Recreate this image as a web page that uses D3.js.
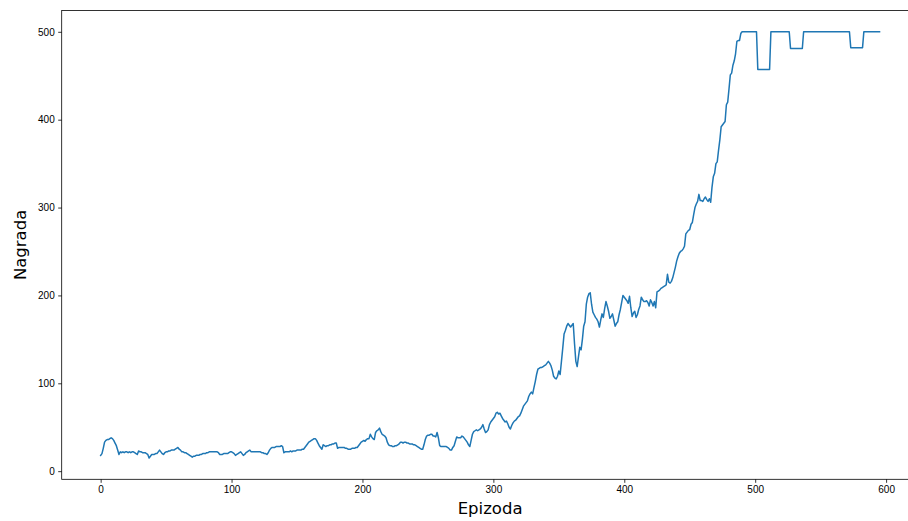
<!DOCTYPE html>
<html lang="hr">
<head>
    <meta charset="UTF-8">
    <title>Nagrada po epizodi</title>
    <script src="https://d3js.org/d3.v7.min.js"></script>
    <style>
        body { margin: 0; background: #fff; }
        svg { display: block; font-family: "DejaVu Sans", sans-serif; }
        .tick text { font-size: 10px; fill: #000; }
        .tick line { stroke: #000; stroke-width: 0.8; }
        .domain { display: none; }
    </style>
</head>
<body>
    <svg width="908" height="521"></svg>

    <script>
        // nagrada (pomični prosjek) po epizodi, očitano sa slike
        var rewards = [
            18, 20, 26, 33, 35, 36, 36, 37, 38, 37,
            35, 32, 29, 24, 19, 22, 21, 22, 21, 22,
            22, 21, 22, 21, 22, 22, 21, 20, 19, 23,
            22, 22, 21, 21, 21, 20, 19, 15, 17, 19,
            19, 19, 20, 20, 22, 24, 22, 20, 19, 21,
            22, 22, 23, 23, 24, 24, 24, 25, 26, 27,
            25, 24, 22, 22, 21, 21, 20, 19, 18, 17,
            16, 17, 17, 18, 18, 18, 19, 19, 20, 20,
            20, 21, 21, 22, 22, 22, 22, 22, 22, 22,
            21, 19, 19, 19, 20, 20, 20, 20, 21, 22,
            22, 21, 20, 18, 19, 20, 21, 22, 20, 18,
            19, 21, 22, 23, 24, 22, 22, 22, 22, 22,
            22, 22, 22, 21, 21, 20, 20, 19, 21, 24,
            26, 27, 27, 27, 28, 28, 28, 28, 29, 28,
            21, 22, 22, 22, 22, 23, 22, 23, 23, 23,
            24, 24, 24, 24, 25, 25, 27, 29, 31, 33,
            34, 35, 36, 37, 37, 35, 32, 29, 27, 25,
            30, 29, 28, 29, 29, 30, 30, 31, 31, 32,
            32, 26, 27, 27, 27, 27, 27, 26, 26, 25,
            25, 25, 26, 26, 26, 27, 27, 29, 31, 33,
            34, 35, 34, 36, 37, 37, 42, 39, 37, 36,
            44, 46, 47, 49, 45, 42, 41, 40, 38, 33,
            30, 29, 29, 28, 28, 29, 29, 30, 31, 33,
            33, 32, 33, 33, 32, 32, 31, 31, 31, 30,
            30, 29, 28, 27, 26, 25, 25, 30, 36, 40,
            41, 41, 42, 42, 40, 40, 39, 44, 38, 29,
            28, 28, 28, 28, 28, 27, 26, 24, 24, 27,
            29, 34, 39, 38, 38, 38, 40, 39, 37, 35,
            33, 30, 28, 35, 42, 45, 46, 47, 46, 47,
            48, 50, 53, 48, 44, 45, 47, 53, 56, 58,
            60, 62, 66, 67, 65, 66, 63, 60, 58, 56,
            57, 54, 50, 48, 52, 55, 57, 58, 60, 62,
            63, 66, 70, 74, 76, 78, 80, 85, 88, 90,
            88, 95, 102, 110, 116, 117, 118, 118, 119, 120,
            121, 123, 125, 123, 120, 115, 108, 106, 105, 108,
            114, 110, 125, 140, 156, 160, 165, 168, 166, 164,
            166, 168, 145, 125, 119, 130, 141, 138, 150, 165,
            170, 190, 198, 202, 203, 190, 181, 178, 175, 173,
            170, 164, 172, 179, 175, 185, 193, 188, 182, 174,
            176, 179, 172, 165, 168, 170, 178, 184, 192, 200,
            198, 196, 194, 191, 199, 186, 176, 180, 182, 175,
            178, 184, 188, 198, 195, 193, 193, 194, 192, 188,
            195, 192, 188, 193, 186, 204, 205, 206, 208, 209,
            210, 211, 212, 224, 215, 214, 216, 220, 226, 232,
            239, 244, 248, 250, 251, 253, 256, 270, 272, 274,
            275, 281, 283, 292, 300, 304, 307, 315, 308, 308,
            307, 310, 312, 309, 307, 310, 306, 323, 335, 339,
            350, 352, 365, 377, 392, 394, 396, 398, 417, 420,
            435, 451, 453, 462, 467, 475, 489, 490, 490, 498,
            500, 500, 500, 500, 500, 500, 500, 500, 500, 500,
            500, 500, 457, 457, 457, 457, 457, 457, 457, 457,
            457, 457, 500, 500, 500, 500, 500, 500, 500, 500,
            500, 500, 500, 500, 500, 500, 500, 481, 481, 481,
            481, 481, 481, 481, 481, 481, 481, 500, 500, 500,
            500, 500, 500, 500, 500, 500, 500, 500, 500, 500,
            500, 500, 500, 500, 500, 500, 500, 500, 500, 500,
            500, 500, 500, 500, 500, 500, 500, 500, 500, 500,
            500, 500, 500, 482, 482, 482, 482, 482, 482, 482,
            482, 482, 482, 500, 500, 500, 500, 500, 500, 500,
            500, 500, 500, 500, 500, 500
        ];

        var xTicks = [0, 100, 200, 300, 400, 500, 600];
        var yTicks = [0, 100, 200, 300, 400, 500];
        var xLabel = "Epizoda";
        var yLabel = "Nagrada";

        var svg = d3.select("svg");

        // područje grafa (desni rub izlazi izvan slike kao na originalu)
        var plotLeft = 61.7, plotTop = 10.5, plotRight = 918.5, plotBottom = 479.3;

        // matplotlib margine od 5%
        var n = rewards.length - 1;
        var x = d3.scaleLinear()
            .domain([-0.05 * n, 1.05 * n])
            .range([plotLeft, plotRight]);

        var yExt = d3.extent(rewards);
        var yPad = (yExt[1] - yExt[0]) * 0.05;
        var y = d3.scaleLinear()
            .domain([yExt[0] - yPad, yExt[1] + yPad])
            .range([plotBottom, plotTop]);

        // linija
        var line = d3.line()
            .x(function(d, i) { return x(i); })
            .y(function(d) { return y(d); });

        svg.append("path")
            .datum(rewards)
            .attr("d", line)
            .attr("fill", "none")
            .attr("stroke", "#1f77b4")
            .attr("stroke-width", 1.5)
            .attr("stroke-linejoin", "round")
            .attr("stroke-linecap", "square");

        // osi
        svg.append("g")
            .attr("transform", "translate(0," + plotBottom + ")")
            .call(d3.axisBottom(x).tickValues(xTicks).tickSize(3.5).tickPadding(3.5)
                .tickFormat(d3.format("d")));

        svg.append("g")
            .attr("transform", "translate(" + plotLeft + ",0)")
            .call(d3.axisLeft(y).tickValues(yTicks).tickSize(3.5).tickPadding(3.5)
                .tickFormat(d3.format("d")));

        // okvir
        svg.append("rect")
            .attr("x", plotLeft)
            .attr("y", plotTop)
            .attr("width", plotRight - plotLeft)
            .attr("height", plotBottom - plotTop)
            .attr("fill", "none")
            .attr("stroke", "#000")
            .attr("stroke-width", 0.8);

        // nazivi osi
        svg.append("text")
            .attr("x", (plotLeft + plotRight) / 2)
            .attr("y", 514)
            .attr("text-anchor", "middle")
            .style("font-size", "16.5px")
            .text(xLabel);

        svg.append("text")
            .attr("transform", "translate(26," + (plotTop + plotBottom) / 2 + ") rotate(-90)")
            .attr("text-anchor", "middle")
            .style("font-size", "16.5px")
            .text(yLabel);
    </script>
</body>
</html>
